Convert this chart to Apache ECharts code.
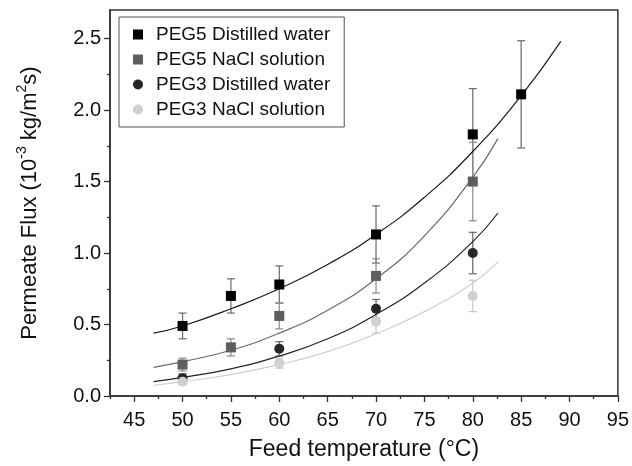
<!DOCTYPE html>
<html>
<head>
<meta charset="utf-8">
<script src="https://cdn.jsdelivr.net/npm/echarts@6/dist/echarts.min.js"></script>
<style>html,body{margin:0;padding:0;background:#fff}#chart{width:632px;height:466px}</style>
</head>
<body>
<div id="chart"></div>
<script>
// ---- data ----
const xTicks = [45, 50, 55, 60, 65, 70, 75, 80, 85, 90, 95];
const xMinorTicks = [42.5, 47.5, 52.5, 57.5, 62.5, 67.5, 72.5, 77.5, 82.5, 87.5, 92.5];
const yTicks = [0, 0.5, 1.0, 1.5, 2.0, 2.5];
const yMinorTicks = [0.25, 0.75, 1.25, 1.75, 2.25];

const seriesNames = ['PEG5 Distilled water', 'PEG5 NaCl solution', 'PEG3 Distilled water', 'PEG3 NaCl solution'];

const peg5WaterT = [50, 55, 60, 70, 80, 85];
const peg5WaterFlux = [0.49, 0.70, 0.78, 1.13, 1.83, 2.11];
const peg5WaterErr = [0.09, 0.12, 0.13, 0.20, 0.32, 0.375];

const peg5NaclT = [50, 55, 60, 70, 80];
const peg5NaclFlux = [0.22, 0.34, 0.56, 0.84, 1.50];
const peg5NaclErr = [0.045, 0.06, 0.09, 0.12, 0.275];

const peg3WaterT = [50, 60, 70, 80];
const peg3WaterFlux = [0.125, 0.33, 0.61, 1.00];
const peg3WaterErr = [0.03, 0.05, 0.065, 0.145];

const peg3NaclT = [50, 60, 70, 80];
const peg3NaclFlux = [0.10, 0.23, 0.52, 0.70];
const peg3NaclErr = [0.02, 0.035, 0.08, 0.11];

// fitted curves
const fitT1 = [47, 50, 55, 60, 65, 70, 75, 80, 85, 89.1];
const fitPeg5Water = [0.44, 0.49, 0.61, 0.75, 0.92, 1.13, 1.39, 1.71, 2.10, 2.48];
const fitT2 = [47, 50, 55, 60, 65, 70, 75, 80, 82.6];
const fitPeg5Nacl = [0.20, 0.24, 0.32, 0.44, 0.60, 0.82, 1.12, 1.53, 1.80];
const fitPeg3Water = [0.10, 0.13, 0.19, 0.28, 0.40, 0.57, 0.79, 1.08, 1.28];
const fitPeg3Nacl = [0.075, 0.10, 0.15, 0.22, 0.31, 0.435, 0.59, 0.79, 0.94];

// ---- build ----
const FONT = 'Liberation Sans, Arial, sans-serif';
const zip = (xs, ys) => xs.map((x, i) => [x, ys[i]]);
const errData = (xs, ys, es) => xs.map((x, i) => [x, ys[i] - es[i], ys[i] + es[i]]);

function errSeries(data, color) {
  return {
    type: 'custom', data: data, z: 2, silent: true,
    encode: { x: 0, y: [1, 2] },
    renderItem: function (params, api) {
      const x = api.value(0);
      const lo = api.coord([x, api.value(1)]);
      const hi = api.coord([x, api.value(2)]);
      const w = 4;
      const st = { stroke: color, lineWidth: 1.2 };
      return {
        type: 'group',
        children: [
          { type: 'line', shape: { x1: lo[0], y1: lo[1], x2: hi[0], y2: hi[1] }, style: st },
          { type: 'line', shape: { x1: lo[0] - w, y1: lo[1], x2: lo[0] + w, y2: lo[1] }, style: st },
          { type: 'line', shape: { x1: hi[0] - w, y1: hi[1], x2: hi[0] + w, y2: hi[1] }, style: st }
        ]
      };
    }
  };
}
function fitSeries(xs, ys, color) {
  return {
    type: 'line', data: zip(xs, ys), smooth: true, showSymbol: false, silent: true, z: 3,
    lineStyle: { color: color, width: 1.2 }
  };
}
function scatterSeries(name, xs, ys, symbol, color) {
  return {
    name: name, type: 'scatter', data: zip(xs, ys), symbol: symbol, symbolSize: 10, z: 4,
    itemStyle: { color: color, opacity: 1 }
  };
}

const axisLineStyle = { color: '#333', width: 1.5 };

const option = {
  animation: false,
  backgroundColor: '#fff',
  grid: { left: 110, right: 12, top: 10, bottom: 68, show: true, borderColor: '#333', borderWidth: 1.5 },
  legend: {
    data: seriesNames, orient: 'vertical', left: 119, top: 17,
    padding: [8, 14, 8, 14], itemGap: 6, itemWidth: 10, itemHeight: 10,
    borderColor: '#555', borderWidth: 1, backgroundColor: '#fff',
    textStyle: { fontFamily: FONT, fontSize: 19, color: '#111', padding: [0, 0, 0, 8] }
  },
  xAxis: [
    {
      type: 'value', min: 42.5, max: 95, position: 'bottom',
      name: 'Feed temperature (°C)', nameLocation: 'middle', nameGap: 42,
      nameTextStyle: { fontFamily: FONT, fontSize: 23, color: '#111' },
      axisLine: { show: true, lineStyle: axisLineStyle },
      axisTick: { show: true, inside: false, length: 6, customValues: xTicks, lineStyle: { color: '#333', width: 1.3 } },
      axisLabel: { customValues: xTicks, margin: 14, fontFamily: FONT, fontSize: 20, color: '#111' },
      splitLine: { show: false }
    },
    {
      type: 'value', min: 42.5, max: 95, position: 'bottom',
      axisLine: { show: false },
      axisTick: { show: true, inside: false, length: 3, customValues: xMinorTicks, lineStyle: { color: '#333', width: 1.3 } },
      axisLabel: { show: false },
      splitLine: { show: false }
    }
  ],
  yAxis: [
    {
      type: 'value', min: 0, max: 2.7, position: 'left',
      name: '{n|Permeate Flux (10}{sup|-3}{n| kg/m}{sup|2}{n|s)}', nameLocation: 'middle', nameGap: 69, nameRotate: 90,
      nameTextStyle: {
        fontFamily: FONT, fontSize: 22, color: '#111',
        rich: {
          n: { fontFamily: FONT, fontSize: 22, color: '#111', verticalAlign: 'bottom', lineHeight: 26 },
          sup: { fontFamily: FONT, fontSize: 14, color: '#111', verticalAlign: 'top', lineHeight: 26 }
        }
      },
      axisLine: { show: true, lineStyle: axisLineStyle },
      axisTick: { show: true, inside: false, length: 6, customValues: yTicks, lineStyle: { color: '#333', width: 1.3 } },
      axisLabel: { customValues: yTicks, margin: 9, fontFamily: FONT, fontSize: 20, color: '#111', formatter: v => v.toFixed(1) },
      splitLine: { show: false }
    },
    {
      type: 'value', min: 0, max: 2.7, position: 'left',
      axisLine: { show: false },
      axisTick: { show: true, inside: false, length: 3, customValues: yMinorTicks, lineStyle: { color: '#333', width: 1.3 } },
      axisLabel: { show: false },
      splitLine: { show: false }
    }
  ],
  series: [
    errSeries(errData(peg5WaterT, peg5WaterFlux, peg5WaterErr), '#6a6a6a'),
    errSeries(errData(peg5NaclT, peg5NaclFlux, peg5NaclErr), '#8a8a8a'),
    errSeries(errData(peg3WaterT, peg3WaterFlux, peg3WaterErr), '#666'),
    errSeries(errData(peg3NaclT, peg3NaclFlux, peg3NaclErr), '#c8c8c8'),
    fitSeries(fitT1, fitPeg5Water, '#1a1a1a'),
    fitSeries(fitT2, fitPeg5Nacl, '#6a6a6a'),
    fitSeries(fitT2, fitPeg3Water, '#222'),
    fitSeries(fitT2, fitPeg3Nacl, '#cfcfcf'),
    scatterSeries(seriesNames[0], peg5WaterT, peg5WaterFlux, 'rect', '#000'),
    scatterSeries(seriesNames[1], peg5NaclT, peg5NaclFlux, 'rect', '#5e5e5e'),
    scatterSeries(seriesNames[2], peg3WaterT, peg3WaterFlux, 'circle', '#262626'),
    scatterSeries(seriesNames[3], peg3NaclT, peg3NaclFlux, 'circle', '#d0d0d0')
  ]
};

const chart = echarts.init(document.getElementById('chart'), null, { renderer: 'canvas' });
chart.setOption(option);
</script>
</body>
</html>
